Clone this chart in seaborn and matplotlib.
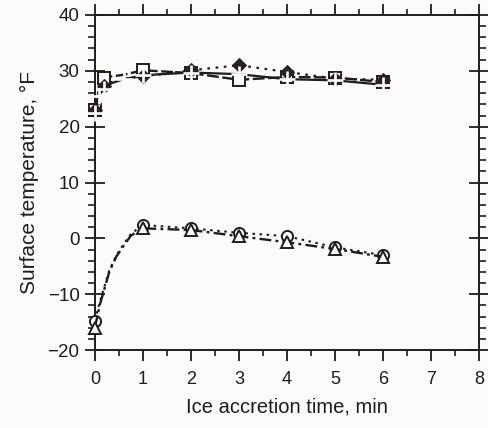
import numpy as np
import pandas as pd
import matplotlib
matplotlib.use("Agg")
import matplotlib.pyplot as plt
from matplotlib.ticker import MultipleLocator
import seaborn as sns

sns.set_style("ticks")
plt.rcParams['font.family'] = ['Liberation Sans', 'DejaVu Sans']

# upper group (line points, markers at the measured times)
up_t = [0, 0.08, 0.18, 0.35, 0.6, 1, 2, 3, 4, 5, 6]
square_T = [23.0, 26.5, 28.8, 29.0, 29.3, 30.1, 29.6, 28.4, 28.9, 28.8, 28.0]
diamond_T = [23.0, 26.0, 27.2, 28.0, 28.6, 29.0, 30.1, 31.0, 29.8, 28.6, 28.4]
plus_T = [22.5, 25.5, 26.8, 27.8, 28.5, 29.2, 29.7, 29.4, 28.5, 28.3, 27.5]
square_marks = [0, 2, 5, 6, 7, 8, 9, 10]
diamond_marks = [0, 2, 5, 6, 7, 8, 9, 10]
plus_marks = [0, 1, 2, 4, 5, 6, 7, 8, 9, 10]

# lower group
low_t = [0, 0.1, 0.3, 0.45, 0.6, 0.75, 1, 2, 3, 4, 5, 6]
circle_T = [-14.7, -11.5, -5.7, -3.0, -1.0, 0.8, 2.4, 1.8, 1.0, 0.4, -1.6, -3.0]
triangle_T = [-16.0, -12.0, -6.0, -3.2, -1.3, 0.5, 1.8, 1.5, 0.4, -0.7, -1.9, -3.3]
low_marks = [0, 6, 7, 8, 9, 10, 11]

ink = '#1e1c1c'
bg = '#fbfbf9'

fig = plt.figure(figsize=(4.89, 4.28), dpi=100, facecolor=bg)
ax = fig.add_axes([0.194, 0.182, 0.786, 0.783])
ax.set_facecolor(bg)

sns.lineplot(x=up_t, y=square_T, ax=ax, color=ink, lw=1.7, linestyle=(0, (5, 1.5)),
             marker='s', markevery=square_marks, markersize=9, markerfacecolor='white',
             markeredgecolor=ink, markeredgewidth=1.4, clip_on=False, zorder=3)
sns.lineplot(x=up_t, y=diamond_T, ax=ax, color=ink, lw=1.6, linestyle=(0, (1.2, 2.5)),
             marker='D', markevery=diamond_marks, markersize=7, markerfacecolor='#2a2222',
             markeredgecolor='#2a2222', clip_on=False, zorder=4)
sns.lineplot(x=up_t, y=plus_T, ax=ax, color=ink, lw=1.6, linestyle='-',
             marker='+', markevery=plus_marks, markersize=11, markeredgewidth=1.9,
             clip_on=False, zorder=4)

sns.lineplot(x=low_t, y=circle_T, ax=ax, color=ink, lw=1.5, linestyle=(0, (1.2, 2.2)),
             marker='o', markevery=low_marks, markersize=8, markerfacecolor='white',
             markeredgecolor=ink, markeredgewidth=1.4, clip_on=False, zorder=3)
sns.lineplot(x=low_t, y=triangle_T, ax=ax, color=ink, lw=1.7, linestyle=(0, (5, 1.8, 1.2, 1.8)),
             marker='^', markevery=low_marks, markersize=8, markerfacecolor='white',
             markeredgecolor=ink, markeredgewidth=1.4, clip_on=False, zorder=3)

ax.set_xlim(0, 8)
ax.set_ylim(-20, 40)
ax.xaxis.set_major_locator(MultipleLocator(1))
ax.xaxis.set_minor_locator(MultipleLocator(0.5))
ax.yaxis.set_minor_locator(MultipleLocator(2))
ax.set_yticks([-20, -10, 0, 10, 20, 30, 40])
ax.set_yticklabels(['\u221220', '\u221210', '0', '10', '20', '30', '40'])

ax.tick_params(axis='x', which='both', direction='out', top=True, bottom=True,
               labelsize=13, color=ink, labelcolor=ink, pad=7)
ax.tick_params(axis='x', which='major', length=8, width=1.3)
ax.tick_params(axis='x', which='minor', length=4, width=1.2)
ax.tick_params(axis='y', which='both', direction='out', left=True, right=True,
               labelsize=13.5, color=ink, labelcolor=ink, pad=4)
ax.tick_params(axis='y', which='major', direction='inout', length=14, width=1.3)
ax.tick_params(axis='y', which='minor', length=5, width=1.2)
for s in ax.spines.values():
    s.set_linewidth(1.4)
    s.set_color(ink)

ax.set_xlabel('Ice accretion time, min', fontsize=14.5, color=ink, labelpad=7)
ax.set_ylabel('Surface temperature, \u00b0F', fontsize=15, color=ink, labelpad=6)

fig.savefig('out.png', dpi=100, facecolor=fig.get_facecolor())
